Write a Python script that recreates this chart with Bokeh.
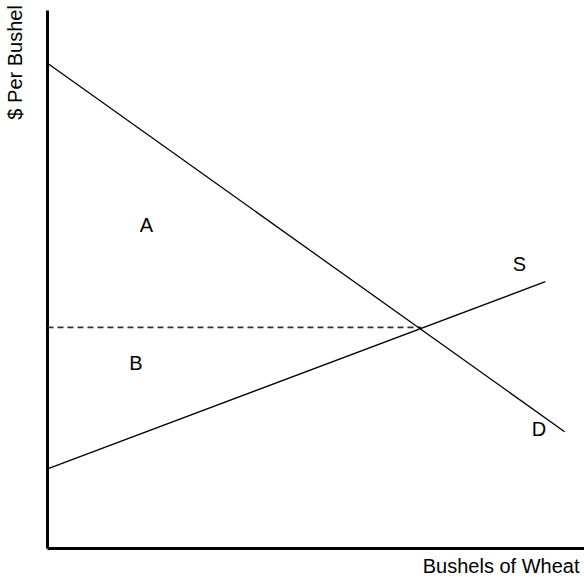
from bokeh.plotting import figure
from bokeh.models import Range1d, Label
from bokeh.embed import file_html
from bokeh.resources import INLINE

# ---- data ----
axis_max_q = 10.0
axis_max_p = 10.0
demand_q = [0.0, 9.63]
demand_p = [9.02, 2.17]
supply_q = [0.0, 9.27]
supply_p = [1.48, 4.96]
eq_q = 6.96
eq_p = 4.11
area_labels = ["A", "B"]
area_q = [1.844, 1.648]
area_p = [6.004, 3.439]
curve_labels = ["S", "D"]
curve_label_q = [8.79, 9.153]
curve_label_p = [5.279, 2.212]
x_title = "Bushels of Wheat"
y_title = "$ Per Bushel"

FONT = "Liberation Sans"

p = figure(width=584, height=577, output_backend="svg", toolbar_location=None,
           x_range=Range1d(-0.8752, 10.0), y_range=Range1d(-0.539, 10.186),
           min_border_left=0, min_border_right=0, min_border_top=0, min_border_bottom=0)
p.axis.visible = False
p.grid.visible = False
p.outline_line_color = None
p.background_fill_color = "white"
p.border_fill_color = "white"

# axes lines
p.line([0, 0], [0, axis_max_p], line_color="black", line_width=3)
p.line([0, axis_max_q], [0, 0], line_color="black", line_width=3)

# dashed price line
p.line([0, eq_q], [eq_p, eq_p], line_color="#333333", line_width=1.8, line_dash="6 4")

# demand and supply
p.line(demand_q, demand_p, line_color="black", line_width=1.3)
p.line(supply_q, supply_p, line_color="black", line_width=1.3)

for t, q, v in zip(area_labels, area_q, area_p):
    p.add_layout(Label(x=q, y=v, text=t, text_font=FONT, text_font_size="20px",
                       text_align="center", text_baseline="alphabetic", text_color="black"))
for t, q, v in zip(curve_labels, curve_label_q, curve_label_p):
    p.add_layout(Label(x=q, y=v, text=t, text_font=FONT, text_font_size="20px",
                       text_align="center", text_baseline="alphabetic", text_color="black"))

p.add_layout(Label(x=9.907, y=-0.316, text=x_title, text_font=FONT, text_font_size="20px",
                   text_align="right", text_baseline="alphabetic", text_color="black"))
p.add_layout(Label(x=-0.596, y=10.1, text=y_title, text_font=FONT, text_font_size="20px",
                   angle=1.5707963, text_align="right", text_baseline="alphabetic",
                   text_color="black"))

open("out.html", "w").write(file_html(p, INLINE))
